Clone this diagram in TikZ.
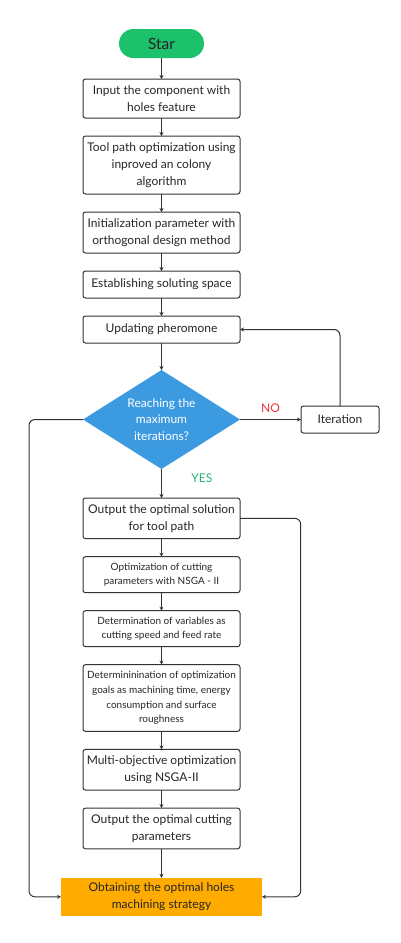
\documentclass[tikz,border=0pt]{standalone}
\usepackage{fontspec}
\setmainfont{Lato}
\usepackage{xcolor}
\usepackage{tikz}
\usetikzlibrary{positioning, shapes.geometric, arrows.meta}

\definecolor{startgreen}{HTML}{1DC06B}
\definecolor{diablue}{HTML}{3C9BE0}
\definecolor{goalorange}{HTML}{FFAB00}
\definecolor{nored}{HTML}{E8383D}
\definecolor{yesgreen}{HTML}{22B573}
\definecolor{linegray}{HTML}{333333}

\begin{document}
\begin{tikzpicture}[x=1pt, y=1pt, >={Stealth[length=4pt, width=4pt]}, node distance=18pt,
    box/.style={draw=linegray, line width=1pt, rounded corners=2.5pt, rectangle, minimum width=157pt, align=center, inner sep=2pt, outer sep=0pt, text=black!85, font=\fontsize{12}{16.7}\selectfont},
    smallbox/.style={box, font=\fontsize{10}{14.7}\selectfont},
    flow/.style={->, draw=linegray, line width=1pt}]

    \useasboundingbox (0,0) rectangle (400,-943);

    % Start node
    \node[fill=startgreen, rounded corners=14.5pt, outer sep=0pt, minimum width=85pt, minimum height=29pt, text=black!85, font=\fontsize{15.5}{17}\selectfont] (start) at (161.5,-43.5) {Star};

    % Ant colony part
    \node[box, below=21pt of start, minimum height=39pt] (input) {Input the component with\\holes feature};
    \node[box, below=of input, minimum height=58pt] (toolpath) {Tool path optimization using\\inproved an colony\\algorithm};
    \node[box, below=of toolpath, minimum height=41pt] (init) {Initialization parameter with\\orthogonal design method};
    \node[box, below=of init, minimum height=27pt] (space) {Establishing soluting space};
    \node[box, below=of space, minimum height=27pt] (update) {Updating pheromone};

    % Decision node
    \node[diamond, fill=diablue, aspect=1.586, minimum width=157pt, minimum height=99pt, inner sep=0pt, outer sep=0pt, align=center, text=white, font=\fontsize{12}{16.7}\selectfont, below=27pt of update] (decide) {Reaching the\\maximum\\iterations?};
    \node[box, right=61pt of decide, minimum width=78pt, minimum height=27pt] (iter) {Iteration};

    % Cutting parameter part
    \node[box, below=29pt of decide, minimum height=40.7pt] (bestpath) {Output the optimal solution\\for tool path};
    \node[smallbox, below=of bestpath, minimum height=36pt] (nsga) {Optimization of cutting\\parameters with NSGA - II};
    \node[smallbox, below=of nsga, minimum height=36pt] (vars) {Determination of variables as\\cutting speed and feed rate};
    \node[smallbox, below=of vars, minimum height=66.7pt] (goals) {Determininination of optimization\\goals as machining time, energy\\consumption and surface\\roughness};
    \node[box, below=of goals, minimum height=40.7pt] (multi) {Multi-objective optimization\\using NSGA-II};
    \node[box, below=of multi, minimum height=40.7pt] (bestcut) {Output the optimal cutting\\parameters};

    % End node
    \node[fill=goalorange, rectangle, outer sep=0pt, minimum width=201pt, minimum height=38pt, align=center, text=black!85, font=\fontsize{12}{16.7}\selectfont, below=29pt of bestcut] (final) {Obtaining the optimal holes\\machining strategy};

    % Bend points of the side lines
    \coordinate[left=54pt of decide.west] (lbend);
    \coordinate[right=60.7pt of bestpath.east] (rbend);

    % Connections: main chain
    \draw[flow] (start) -- (input);
    \draw[flow] (input) -- (toolpath);
    \draw[flow] (toolpath) -- (init);
    \draw[flow] (init) -- (space);
    \draw[flow] (space) -- (update);
    \draw[flow] (update) -- (decide);
    \draw[flow] (decide) -- node[pos=0.3, right=26pt, text=yesgreen, font=\fontsize{12}{14}\selectfont] {YES} (bestpath);
    \draw[flow] (bestpath) -- (nsga);
    \draw[flow] (nsga) -- (vars);
    \draw[flow] (vars) -- (goals);
    \draw[flow] (goals) -- (multi);
    \draw[flow] (multi) -- (bestcut);
    \draw[flow] (bestcut) -- (final);

    % Connections: iteration loop
    \draw[flow] (decide.east) -- node[above=3pt, text=nored, font=\fontsize{12}{14}\selectfont] {NO} (iter.west);
    \draw[flow, rounded corners=6pt] (iter.north) |- (update.east);

    % Connections: side lines to the end node
    \draw[flow, rounded corners=6pt] (decide.west) -- (lbend) |- (final.west);
    \draw[flow, rounded corners=6pt] (bestpath.east) -- (rbend) |- (final.east);

\end{tikzpicture}
\end{document}
